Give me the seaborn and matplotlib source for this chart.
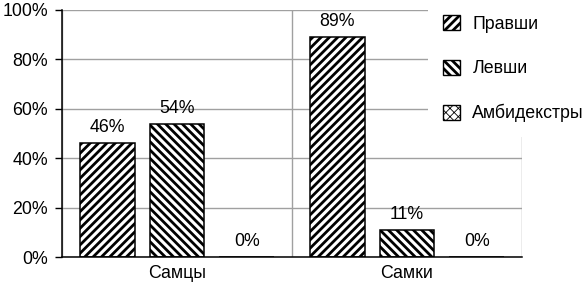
import matplotlib
matplotlib.use("Agg")
import matplotlib.pyplot as plt
import matplotlib.patches as mpatches
from matplotlib.ticker import FixedLocator, PercentFormatter
import seaborn as sns
import pandas as pd

# ---- data ----
groups = ["Самцы", "Самки"]
hands = ["Правши", "Левши", "Амбидекстры"]
right_handed = [46, 89]
left_handed = [54, 11]
ambidextrous = [0, 0]
hatches = ["////", "\\\\\\\\", "xxxx"]

rows = []
for h, vals in zip(hands, [right_handed, left_handed, ambidextrous]):
    for g, v in zip(groups, vals):
        rows.append({"group": g, "hand": h, "value": v})
df = pd.DataFrame(rows)

sns.set_theme(style="white")
plt.rcParams["font.family"] = ["Liberation Sans", "DejaVu Sans"]
plt.rcParams["hatch.linewidth"] = 2.0

FS = 12.8

fig = plt.figure(figsize=(5.86, 2.83), dpi=100)
ax = fig.add_axes([62 / 586, 1 - 257 / 283, (522 - 62) / 586, (257 - 10) / 283])

sns.barplot(data=df, x="group", y="value", hue="hand", order=groups,
            hue_order=hands, palette=["white"] * 3, width=0.912, gap=0.214,
            edgecolor="black", linewidth=1.1, ax=ax, legend=False,
            errorbar=None)

for cont, hatch in zip(ax.containers, hatches):
    for bar in cont:
        bar.set_hatch(hatch)
        bar.set_facecolor("white")
        bar.set_edgecolor("black")
    ax.bar_label(cont, labels=[f"{int(round(b.get_height()))}%" for b in cont],
                 padding=5, fontsize=FS, color="black")

ax.set_ylim(0, 100)
ax.set_xlim(-0.5, 1.5)
ax.set_yticks([0, 20, 40, 60, 80, 100])
ax.yaxis.set_major_formatter(PercentFormatter(decimals=0))
ax.set_xlabel("")
ax.set_ylabel("")

ax.xaxis.set_minor_locator(FixedLocator([-0.5, 0.5, 1.5]))
ax.tick_params(axis="x", which="major", length=0, pad=6, labelsize=FS, colors="black")
ax.tick_params(axis="x", which="minor", length=5, width=1, color="black", direction="out")
ax.tick_params(axis="y", which="major", left=True, length=5, width=1, color="black",
               pad=5, labelsize=FS, labelcolor="black", direction="out")

ax.grid(axis="y", which="major", color="#a0a0a0", linewidth=1)
ax.grid(axis="x", which="minor", color="#a0a0a0", linewidth=1)
ax.grid(axis="x", which="major", visible=False)
ax.set_axisbelow(True)

for s in ["top", "right"]:
    ax.spines[s].set_visible(False)
for s in ["left", "bottom"]:
    ax.spines[s].set_visible(True)
    ax.spines[s].set_color("black")
    ax.spines[s].set_linewidth(1.1)

handles = []
for h, hatch in zip(hands, hatches):
    p = mpatches.Patch(facecolor="white", edgecolor="black", hatch=hatch,
                       linewidth=1.0, label=h)
    handles.append(p)

leg = fig.legend(handles=handles, loc="upper left",
                 bbox_to_anchor=(428 / 586, 1.0), bbox_transform=fig.transFigure,
                 frameon=True, fontsize=FS, labelspacing=1.5,
                 handlelength=0.95, handleheight=0.95, handletextpad=0.7,
                 borderpad=0.85, borderaxespad=0, fancybox=False)
leg.get_frame().set_facecolor("white")
leg.get_frame().set_edgecolor("none")
leg.get_frame().set_alpha(1)
for t in leg.get_texts():
    t.set_color("black")
amb = leg.legend_handles[2]
if hasattr(amb, "set_hatch_linewidth"):
    amb.set_hatch_linewidth(0.6)
else:
    amb._hatch_linewidth = 0.6

fig.savefig("out.png", dpi=100)
